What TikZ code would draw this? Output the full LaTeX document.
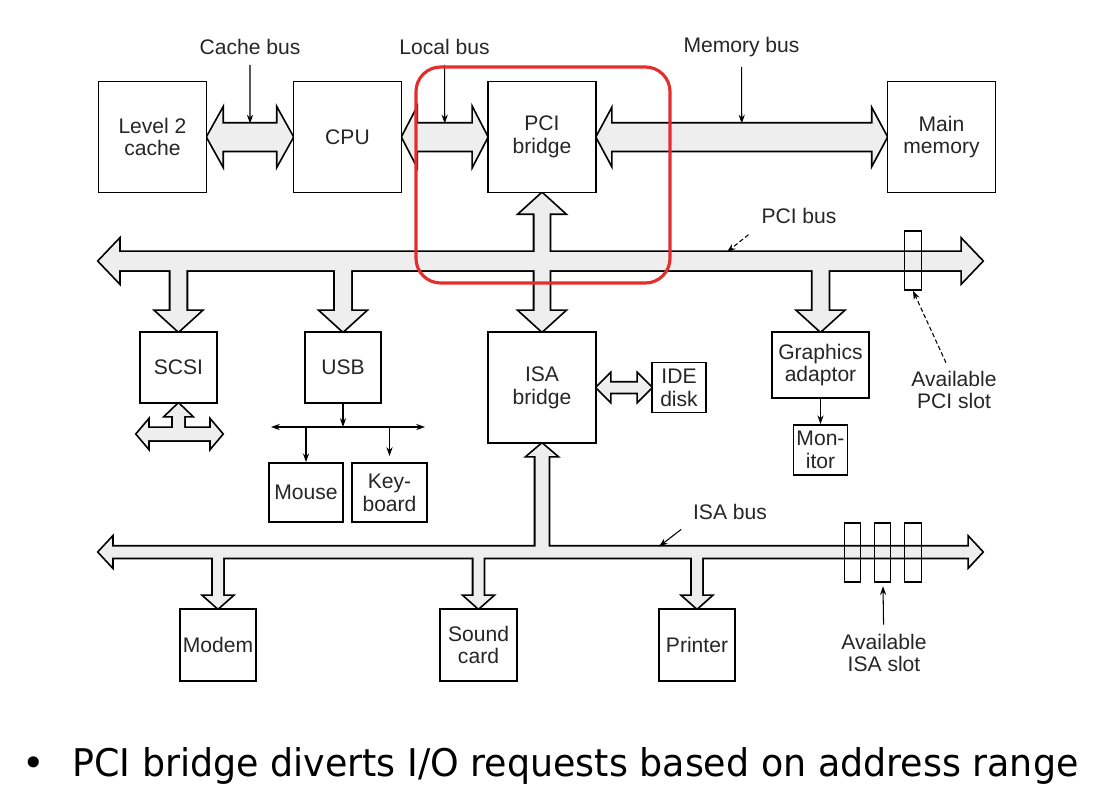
\documentclass[tikz,border=0pt]{standalone}
\usepackage{fontspec}
\usetikzlibrary{calc,arrows.meta,backgrounds}

\newfontfamily\diagfont{Liberation Sans}
\newfontfamily\notefont{DejaVu Sans}
\newcommand{\lbl}{\diagfont\fontsize{12}{13}\selectfont}
\newcommand{\pxlen}{0.5690551pt}
\definecolor{busgray}{RGB}{238,238,238}
\definecolor{hilite}{RGB}{228,45,45}

% block arrow along x, heads at both ends: style, from, to, shaft, head, head length
\newcommand{\hbus}[6]{%
    \path[#1] let \p1=(#2), \p2=(#3) in
        (\x1,\y1) -- (\x1+#6*\pxlen,\y1+#5*\pxlen) -- (\x1+#6*\pxlen,\y1+#4*\pxlen)
        -- (\x2-#6*\pxlen,\y1+#4*\pxlen) -- (\x2-#6*\pxlen,\y1+#5*\pxlen) -- (\x2,\y1)
        -- (\x2-#6*\pxlen,\y1-#5*\pxlen) -- (\x2-#6*\pxlen,\y1-#4*\pxlen)
        -- (\x1+#6*\pxlen,\y1-#4*\pxlen) -- (\x1+#6*\pxlen,\y1-#5*\pxlen) -- cycle;}

% block arrow along y, head at the far end only
\newcommand{\vtap}[6]{%
    \path[#1] let \p1=(#2), \p2=(#3), \n1={(\y2-\y1)/abs(\y2-\y1)} in
        ({\x1-#4*\pxlen},\y1) -- ({\x1-#4*\pxlen},{\y2-(\n1)*#6*\pxlen})
        -- ({\x1-#5*\pxlen},{\y2-(\n1)*#6*\pxlen}) -- (\x1,\y2)
        -- ({\x1+#5*\pxlen},{\y2-(\n1)*#6*\pxlen}) -- ({\x1+#4*\pxlen},{\y2-(\n1)*#6*\pxlen})
        -- ({\x1+#4*\pxlen},\y1) -- cycle;}

% block arrow along y, heads at both ends
\newcommand{\vbus}[6]{%
    \path[#1] let \p1=(#2), \p2=(#3), \n1={(\y2-\y1)/abs(\y2-\y1)} in
        (\x1,\y1) -- ({\x1+#5*\pxlen},{\y1+(\n1)*#6*\pxlen}) -- ({\x1+#4*\pxlen},{\y1+(\n1)*#6*\pxlen})
        -- ({\x1+#4*\pxlen},{\y2-(\n1)*#6*\pxlen}) -- ({\x1+#5*\pxlen},{\y2-(\n1)*#6*\pxlen}) -- (\x1,\y2)
        -- ({\x1-#5*\pxlen},{\y2-(\n1)*#6*\pxlen}) -- ({\x1-#4*\pxlen},{\y2-(\n1)*#6*\pxlen})
        -- ({\x1-#4*\pxlen},{\y1+(\n1)*#6*\pxlen}) -- ({\x1-#5*\pxlen},{\y1+(\n1)*#6*\pxlen}) -- cycle;}

\begin{document}
\begin{tikzpicture}[x=0.02cm, y=-0.02cm,
    >={Stealth[length=5pt, width=3.5pt]},
    hw/.style 2 args={draw, line width=1pt, fill=white, inner sep=0pt, align=center,
        font=\lbl, text=black!85, minimum width=#1*0.02cm, minimum height=#2*0.02cm},
    slot/.style={draw, line width=0.8pt, inner sep=0pt,
        minimum width=16.5*0.02cm, minimum height=59*0.02cm},
    note/.style={font=\lbl, text=black!85, align=center, inner sep=1pt},
    wire/.style={line width=0.6pt, ->},
    pointer/.style={wire, dash pattern=on 2.5pt off 1.5pt},
    busedge/.style={draw=black, line width=2pt, fill=busgray},
    busfill/.style={fill=busgray}]
    \useasboundingbox (0,0) rectangle (1110,806);

    % Processor side
    \node[hw={108}{111}] (l2) at (152.5,137) {Level 2\\cache};
    \node[hw={108}{111}] (cpu) at (347.5,137) {CPU};
    \node[hw={108}{111}] (pcib) at (542,137) {PCI\\bridge};
    \node[hw={108}{111}] (mem) at (941.5,137) {Main\\memory};

    % Devices on the PCI bus
    \node[hw={77}{71}] (scsi) at (178.5,367.5) {SCSI};
    \node[hw={76}{71}] (usb) at (343,367.5) {USB};
    \node[hw={108}{111}] (isab) at (542,387.5) {ISA\\bridge};
    \node[hw={54}{50}] (ide) at (679,387.5) {IDE\\disk};
    \node[hw={97}{66}] (gfx) at (820.5,365) {Graphics\\adaptor};
    \node[hw={54}{50}] (mon) at (820.5,450) {Mon-\\itor};
    \node[hw={74}{59}] (mouse) at (306,492.5) {Mouse};
    \node[hw={75}{59}] (kbd) at (389.5,492.5) {Key-\\board};

    % Devices on the ISA bus
    \node[hw={76}{72}] (modem) at (218,645) {Modem};
    \node[hw={77}{72}] (sound) at (478.5,645) {Sound\\card};
    \node[hw={76}{72}] (printer) at (697,645) {Printer};

    % Bus ends
    \coordinate (pcil) at (99,261);
    \coordinate (pcir) at (982,261);
    \coordinate (isal) at (99,552);
    \coordinate (isar) at (982,552);
    \coordinate (scsil) at (137,434);
    \coordinate (scsir) at (222,434);
    \coordinate (usbl) at (271,427);
    \coordinate (usbr) at (425,427);
    \coordinate (pcitick) at (727,252);
    \coordinate (isatick) at (659,546.5);

    % The buses, outline first and then the fill over the joins
    \begin{scope}[on background layer]
    \foreach \pass in {busedge,busfill}{
        \hbus{\pass}{l2.east}{cpu.west}{13.5}{27}{15}
        \hbus{\pass}{cpu.east}{pcib.west}{13.5}{27}{14}
        \hbus{\pass}{pcib.east}{mem.west}{13.5}{26}{14}
        \hbus{\pass}{pcil}{pcir}{9}{21}{20}
        \vbus{\pass}{pcib.south}{isab.north}{7.5}{22}{20}
        \foreach \dev in {scsi,usb,gfx}{
            \vtap{\pass}{\dev.north |- pcil}{\dev.north}{8}{22}{20}
        }
        \hbus{\pass}{scsil}{scsir}{6}{13}{11}
        \vtap{\pass}{scsi.south |- scsil}{scsi.south}{5.5}{12.5}{12}
        \hbus{\pass}{isab.east}{ide.west}{5}{13}{13}
        \hbus{\pass}{isal}{isar}{5.5}{14}{13}
        \vtap{\pass}{isab.south |- isal}{isab.south}{6.5}{14}{12}
        \foreach \dev in {modem,sound,printer}{
            \vtap{\pass}{\dev.north |- isal}{\dev.north}{5}{13.5}{12}
        }
    }
    \end{scope}

    % Free slots
    \node[slot] (pcislot) at (913,260.5) {};
    \foreach \i/\sx in {1/852.5,2/882.5,3/913}
        \node[slot] (isaslot\i) at (\sx,552.5) {};

    % Bus names
    \node[note] (cachelbl) at (250,47) {Cache bus};
    \node[note] (locallbl) at (444.5,47) {Local bus};
    \node[note] (memlbl) at (741.5,47) {Memory bus};
    \node[note] (pcilbl) at (799,216) {PCI bus};
    \node[note] (isalbl) at (730,512) {ISA bus};
    \node[note] (pcislotlbl) at (954,390) {Available\\PCI slot};
    \node[note] (isaslotlbl) at (884,653) {Available\\ISA slot};

    \draw[wire, shorten <=4.5pt] (cachelbl) -- ($(l2.east)!0.5!(cpu.west)+(0,-13.5)$);
    \draw[wire, shorten <=4.5pt] (locallbl) -- ($(cpu.east)!0.5!(pcib.west)+(0,-13.5)$);
    \draw[wire, shorten <=4.5pt] (memlbl) -- ($(pcib.east)!0.5!(mem.west)+(0,-13.5)$);
    \draw[pointer, shorten <=8pt] (pcilbl.south west) -- (pcitick);
    \draw[wire, shorten <=7pt] (isalbl.south west) -- (isatick);
    \draw[pointer] ($(pcislotlbl.north)+(-8,-6)$) -- (pcislot.south);
    \draw[wire, shorten <=4pt, shorten >=2pt] (isaslotlbl) -- (isaslot2);

    % Small links
    \draw[wire] (gfx) -- (mon);
    \draw[wire] (usb) -- (usb.south |- usbl);
    \draw[wire, <->] (usbl) -- (usbr);
    \draw[wire] (mouse.north |- usbl) -- (mouse);
    \draw[wire, shorten >=3.5pt] (kbd.north |- usbl) -- (kbd);

    % Highlight round the PCI bridge
    \draw[hilite, line width=1.8pt, rounded corners=14pt] (416,67) rectangle (670,283);

    % Remark below the figure
    \node[anchor=base west, inner sep=0pt, font=\notefont\fontsize{21.7}{26}\selectfont]
        (bullet) at (22,776) {•};
    \node[anchor=base west, inner sep=0pt, font=\notefont\fontsize{21.7}{26}\selectfont]
        (remark) at (72,776) {\scalebox{0.955}[1]{PCI bridge diverts I/O requests based on address range}};
\end{tikzpicture}
\end{document}
